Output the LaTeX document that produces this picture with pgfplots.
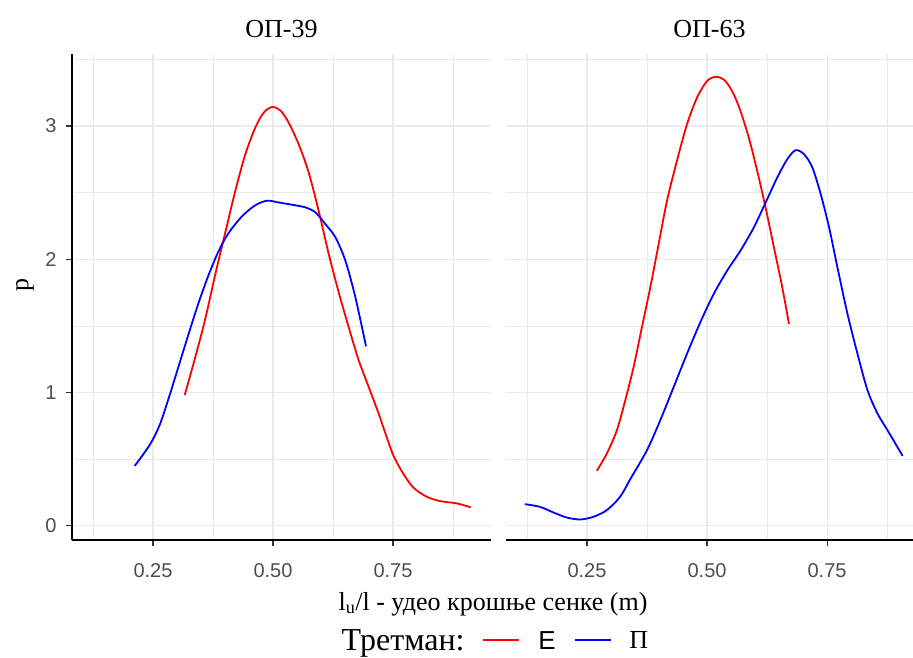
\documentclass[border=0pt]{standalone}
\usepackage{fontspec}
\setmainfont{Liberation Serif}
\newfontfamily\sansf{Liberation Sans}
\usepackage{pgfplots}
\pgfplotsset{compat=1.18}
\definecolor{gridc}{HTML}{EBEBEB}
\definecolor{tickc}{HTML}{333333}
\definecolor{labc}{HTML}{4D4D4D}
\pgfplotsset{
  every axis title/.style={at={(0.5,1)}, anchor=base, yshift=16.7pt, font=\fontsize{26}{30}\selectfont},
  panel/.style={
    scale only axis, height=486pt,
    ymin=-0.107, ymax=3.54, xmin=0.08125,
    axis x line*=bottom, axis y line*=left,
    xtick={0.25,0.5,0.75}, minor xtick={0.125,0.375,0.625,0.875},
    ytick={0,1,2,3}, minor ytick={0.5,1.5,2.5,3.5},
    xticklabels={0.25,0.50,0.75},
    grid=both,
    major grid style={gridc, line width=1.1pt},
    minor grid style={gridc, line width=0.55pt},
    tick align=outside, major tick length=6pt, minor tick length=0pt,
    tick style={tickc, line width=1.1pt},
    axis line style={black, line width=1.5pt},
    tick label style={font=\fontsize{20}{23}\selectfont\sansf, text=labc, inner sep=0pt},
    xticklabel style={yshift=-17pt},
    yticklabel style={xshift=-9.3pt},
  },
}
\begin{document}
\begin{tikzpicture}
\path[use as bounding box] (0,0) rectangle (913pt,657pt);
\begin{axis}[panel, at={(72pt,117pt)}, anchor=south west, width=419pt, xmax=0.95417,
  yticklabels={0,1,2,3},
  title={ОП-39},
  legend columns=-1,
  legend style={draw=none, fill=none, at={(0.988,-0.2078)}, anchor=center,
    font=\fontsize{26}{30}\selectfont, inner sep=0pt, outer sep=0pt, nodes={inner sep=0pt},
    /tikz/every odd column/.append style={column sep=18pt},
    /tikz/every even column/.append style={column sep=18pt}},
  legend image code/.code={\draw[#1] (0pt,1pt) -- (36pt,1pt);},
]
\addlegendimage{empty legend}
\addlegendentry{\fontsize{32}{36}\selectfont Третман:}
\addplot[red, line width=1.8pt, smooth, tension=0.5] coordinates {
(0.316,0.98) (0.3382,1.267) (0.359,1.554) (0.380,1.890) (0.4007,2.202) (0.4215,2.514)
(0.4424,2.788) (0.4632,2.988) (0.4806,3.1) (0.498,3.142) (0.5153,3.117) (0.5326,3.025)
(0.5535,2.863) (0.5743,2.651) (0.5951,2.364) (0.616,2.04) (0.6368,1.753) (0.6576,1.491)
(0.6785,1.242) (0.6993,1.042) (0.72,0.843) (0.7306,0.731) (0.75,0.535) (0.771,0.393)
(0.792,0.288) (0.82,0.218) (0.848,0.185) (0.883,0.168) (0.912,0.138)
};
\addlegendentry{\sansf E}
\addplot[blue, line width=1.8pt, smooth, tension=0.5] coordinates {
(0.2118,0.449) (0.2431,0.606) (0.2639,0.756) (0.2847,0.98) (0.2965,1.117) (0.3243,1.441)
(0.3451,1.674) (0.366,1.883) (0.3868,2.062) (0.4076,2.197) (0.4354,2.322) (0.4632,2.405)
(0.4875,2.439) (0.5118,2.426) (0.5396,2.409) (0.5674,2.389) (0.5882,2.352) (0.609,2.264)
(0.6299,2.165) (0.6507,1.99) (0.6715,1.716) (0.6938,1.347)
};
\addlegendentry{П}
\end{axis}
\begin{axis}[panel, at={(506pt,117pt)}, anchor=south west, width=407pt, xmax=0.929,
  yticklabels={},
  y axis line style={draw=none},
  major y tick style={draw=none},
  title={ОП-63},
]
\addplot[red, line width=1.8pt, smooth, tension=0.5] coordinates {
(0.2705,0.4125) (0.2914,0.5425) (0.3123,0.7175) (0.3297,0.9425) (0.3471,1.1925) (0.3645,1.4925)
(0.382,1.7925) (0.3994,2.1175) (0.4168,2.4425) (0.4373,2.738) (0.4582,3.012) (0.4791,3.212)
(0.5,3.337) (0.5195,3.369) (0.5383,3.337) (0.5557,3.237) (0.5696,3.112) (0.587,2.912)
(0.6045,2.663) (0.6219,2.388) (0.6393,2.089) (0.6567,1.789) (0.6706,1.515)
};
\addplot[blue, line width=1.8pt, smooth, tension=0.5] coordinates {
(0.1205,0.162) (0.1518,0.142) (0.1797,0.1) (0.2075,0.062) (0.2354,0.047) (0.2632,0.067)
(0.2911,0.117) (0.3189,0.217) (0.3402,0.35) (0.375,0.5675) (0.4025,0.791) (0.4307,1.0425)
(0.4582,1.29) (0.4864,1.53) (0.5139,1.739) (0.5418,1.914) (0.5696,2.064) (0.5975,2.239)
(0.6253,2.451) (0.6462,2.613) (0.6671,2.750) (0.6845,2.818) (0.702,2.788) (0.7194,2.688)
(0.7368,2.488) (0.7542,2.239) (0.7716,1.939) (0.7925,1.590) (0.8134,1.290) (0.8343,1.016)
(0.8552,0.841) (0.8760,0.716) (0.9074,0.524)
};
\end{axis}
\node[anchor=base, font=\fontsize{26}{30}\selectfont] at (493pt,47pt) {l\textsubscript{u}/l - удео крошње сенке (m)};
\node[rotate=90, anchor=center, font=\fontsize{26}{30}\selectfont] at (25pt,372pt) {p};
\end{tikzpicture}
\end{document}
